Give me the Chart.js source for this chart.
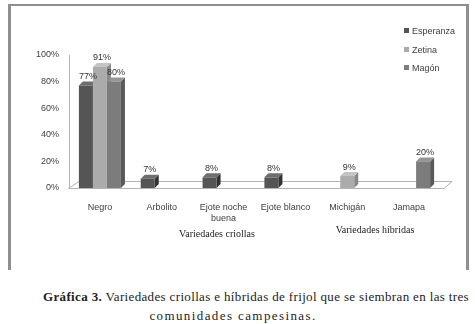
<!DOCTYPE html>
<html>
<head>
<meta charset="utf-8">
<script src="https://cdn.jsdelivr.net/npm/chart.js@4.4.1/dist/chart.umd.min.js"></script>
<style>
  body { margin: 0; background: #fff; width: 475px; height: 324px; overflow: hidden; position: relative; }
  #frame { position: absolute; left: 8px; top: 4px; width: 461px; height: 266px; box-sizing: border-box;
           border-left: 3px solid #8f8f8f; border-right: 3px solid #8f8f8f; border-top: 2px solid #8f8f8f; }
  #chart { position: absolute; left: 0; top: 0; }
  .legend-item { position: absolute; left: 404px; font: 9px 'Liberation Sans', sans-serif; color: #404040; line-height: 10px; white-space: nowrap; }
  .legend-item span { display: inline-block; width: 5px; height: 5px; margin-right: 3px; vertical-align: 1px; }
  .group-label { position: absolute; font: 10px 'Liberation Serif', serif; color: #222; transform: translateX(-50%); white-space: nowrap; }
  .caption { position: absolute; font: 13px 'Liberation Serif', serif; color: #222; white-space: nowrap; }
</style>
</head>
<body>
<div id="frame"></div>
<canvas id="chart" width="475" height="270"></canvas>
<div id="legend"></div>
<div class="group-label" style="left:217px; top:228px;" id="g0"></div>
<div class="group-label" style="left:375px; top:224px;" id="g1"></div>
<div class="caption" id="cap1" style="left:43px; top:289px; letter-spacing:0.35px;"><b>Gráfica 3.</b> Variedades criollas e híbridas de frijol que se siembran en las tres</div>
<div class="caption" id="cap2" style="left:233px; top:308px; letter-spacing:1.4px; transform: translateX(-50%);">comunidades campesinas.</div>
<script>
// chart values
const categories = ['Negro', 'Arbolito', ['Ejote noche', 'buena'], 'Ejote blanco', 'Michigán', 'Jamapa'];
const seriesNames = ['Esperanza', 'Zetina', 'Magón'];
const esperanza = [77, 7, 8, 8, null, null];
const zetina = [91, null, null, null, 9, null];
const magon = [80, null, null, null, null, 20];
const yTicks = [0, 20, 40, 60, 80, 100];
const groupLabels = ['Variedades criollas', 'Variedades híbridas'];

const seriesColors = ['#555555', '#ababab', '#7c7c7c'];

function shade(hex, amt) {
    const n = parseInt(hex.slice(1), 16);
    const c = [(n >> 16) & 255, (n >> 8) & 255, n & 255].map(v => Math.max(0, Math.min(255, Math.round(v + amt))));
    return `rgb(${c[0]},${c[1]},${c[2]})`;
}

document.getElementById('g0').textContent = groupLabels[0];
document.getElementById('g1').textContent = groupLabels[1];

const legendBox = document.getElementById('legend');
seriesNames.forEach((name, i) => {
    const item = document.createElement('div');
    item.className = 'legend-item';
    item.style.top = (26 + i * 18.5) + 'px';
    item.innerHTML = `<span style="background:${seriesColors[i]}"></span>${name}`;
    legendBox.appendChild(item);
});

const DX = 4, DY = 4;

// floor + side/top faces of the bars, drawn behind the front faces
const bars3d = {
    id: 'bars3d',
    beforeDatasetsDraw(chart) {
        const ctx = chart.ctx;
        const a = chart.chartArea;
        ctx.save();
        ctx.strokeStyle = '#b4b4b4';
        ctx.lineWidth = 1;
        ctx.beginPath();
        ctx.moveTo(a.left - 0.5, a.bottom + 0.5);
        ctx.lineTo(a.right + 4, a.bottom + 0.5);
        ctx.lineTo(a.right + 12, a.bottom - 6.5);
        ctx.lineTo(a.left + 10, a.bottom - 6.5);
        ctx.closePath();
        ctx.stroke();

        chart.data.datasets.forEach((ds, di) => {
            const meta = chart.getDatasetMeta(di);
            meta.data.forEach((el, i) => {
                if (ds.data[i] == null) return;
                const l = el.x - el.width / 2, r = el.x + el.width / 2;
                const top = el.y, base = el.base;
                ctx.fillStyle = shade(seriesColors[di], -35);
                ctx.beginPath();
                ctx.moveTo(r, top);
                ctx.lineTo(r + DX, top - DY);
                ctx.lineTo(r + DX, base - DY);
                ctx.lineTo(r, base);
                ctx.closePath();
                ctx.fill();
                ctx.fillStyle = shade(seriesColors[di], 25);
                ctx.beginPath();
                ctx.moveTo(l, top);
                ctx.lineTo(l + DX, top - DY);
                ctx.lineTo(r + DX, top - DY);
                ctx.lineTo(r, top);
                ctx.closePath();
                ctx.fill();
            });
        });
        ctx.restore();
    },
    afterDatasetsDraw(chart) {
        const ctx = chart.ctx;
        ctx.save();
        ctx.font = "9px 'Liberation Sans', sans-serif";
        ctx.fillStyle = '#333';
        ctx.textAlign = 'center';
        ctx.textBaseline = 'middle';
        chart.data.datasets.forEach((ds, di) => {
            const meta = chart.getDatasetMeta(di);
            meta.data.forEach((el, i) => {
                const v = ds.data[i];
                if (v == null) return;
                ctx.fillText(v + '%', el.x + 2, el.y - 9);
            });
        });
        ctx.restore();
    }
};

const datasets = [esperanza, zetina, magon].map((vals, i) => ({
    label: seriesNames[i],
    data: vals,
    backgroundColor: seriesColors[i],
    borderWidth: 0,
    barPercentage: 1,
    categoryPercentage: 0.68
}));

new Chart(document.getElementById('chart'), {
    type: 'bar',
    data: { labels: categories, datasets: datasets },
    options: {
        responsive: false,
        animation: false,
        devicePixelRatio: 1,
        layout: { padding: { left: 0, top: 55, right: 35, bottom: 0 } },
        plugins: { legend: { display: false }, tooltip: { enabled: false } },
        scales: {
            x: {
                grid: { display: false, drawTicks: false },
                border: { display: false },
                ticks: { font: { family: 'Liberation Sans', size: 9 }, color: '#404040', padding: 14, maxRotation: 0, autoSkip: false },
                afterFit(scale) { scale.height = 82; }
            },
            y: {
                min: 0,
                max: 100,
                afterBuildTicks(scale) { scale.ticks = yTicks.map(v => ({ value: v })); },
                grid: { display: false, drawTicks: false },
                border: { display: true, color: '#b4b4b4', width: 1 },
                ticks: {
                    font: { family: 'Liberation Sans', size: 9 },
                    color: '#404040',
                    padding: 10,
                    callback: v => v + '%'
                },
                afterFit(scale) { scale.width = 69; }
            }
        }
    },
    plugins: [bars3d]
});
</script>
</body>
</html>
